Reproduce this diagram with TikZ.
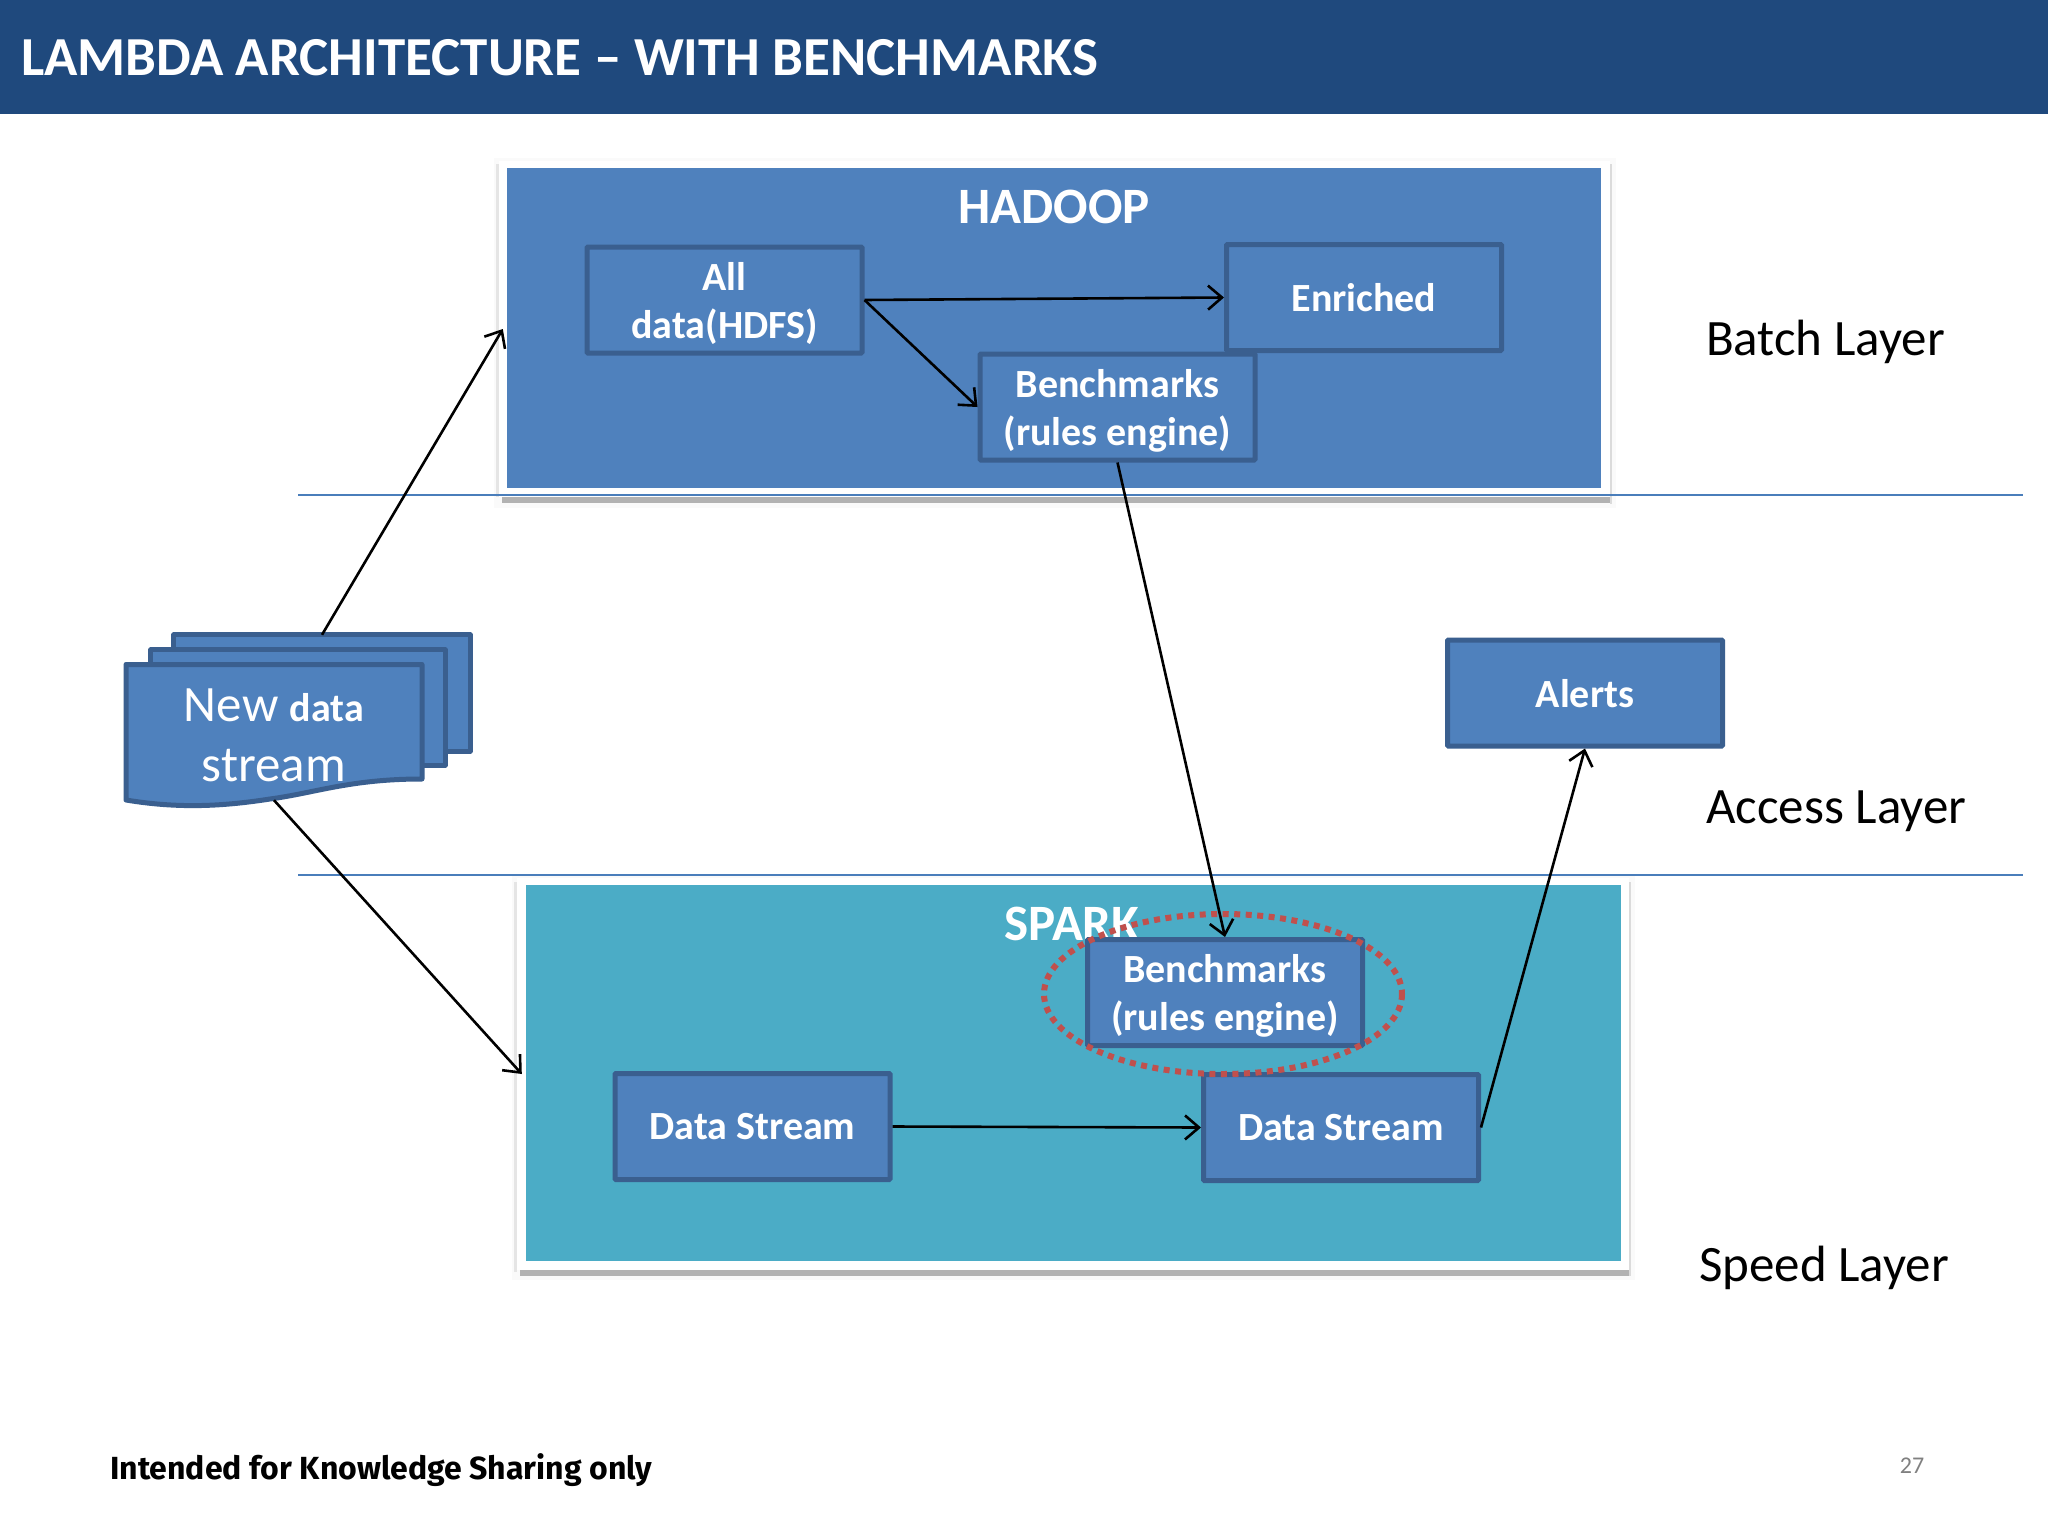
\documentclass[tikz,border=0pt]{standalone}
\usepackage{fontspec}
\setmainfont{Carlito}
\newfontfamily\footfont{Fira Sans}
\usetikzlibrary{arrows.meta,shapes.geometric,calc}
\definecolor{hdr}{HTML}{1F497D}
\definecolor{bluefill}{HTML}{4F81BD}
\definecolor{blueedge}{HTML}{3A5F8F}
\definecolor{teal}{HTML}{4BACC6}
\definecolor{rule}{HTML}{4A7EBB}
\definecolor{redot}{HTML}{C0504D}
\newcommand{\fs}[2]{\fontsize{#1}{#2}\selectfont}
\tikzset{
  x=1pt,y=-1pt,
  procbox/.style={draw=blueedge,fill=bluefill,line width=5pt,rounded corners=1pt,
    minimum width=275pt,minimum height=106pt,inner sep=0pt,align=center,
    text=white,font=\fs{40}{48}\bfseries,text depth=-1.5pt},
  layerlabel/.style={anchor=west,font=\fs{51}{58},text=black,inner sep=0pt},
  rulerline/.style={draw=rule,line width=2pt},
  flow/.style={draw=black,line width=2.6pt,-{Straight Barb[length=14pt,width=24pt,line width=2.6pt]}},
  paper/.style={draw=blueedge,fill=bluefill,line width=5pt,line join=round},
}
\begin{document}
\begin{tikzpicture}
\useasboundingbox (0,0) rectangle (2048,1536);
\fill[white] (0,0) rectangle (2048,1536);
\fill[hdr] (0,0) rectangle (2048,114);
\node[anchor=west,inner sep=0pt,text=white,font=\fs{55}{60}\bfseries] (title) at (21,58) {LAMBDA ARCHITECTURE – WITH BENCHMARKS};

% hadoop frame
\fill[black!2] (494,158) rectangle (1616,508);
\fill[black!10] (496,164) rectangle (499,497);
\fill[black!14] (1610,164) rectangle (1612,504);
\fill[black!30] (502,497) rectangle (1610,503);
\fill[white] (499,161) rectangle (1610,497);
\fill[bluefill] (507,168) rectangle (1601,488);
\node[minimum width=1102pt,minimum height=334pt,inner sep=0pt] (hadoop) at (1054,329) {};
% spark frame
\fill[black!2] (512,876) rectangle (1635,1280);
\fill[black!10] (514,882) rectangle (517,1272);
\fill[black!14] (1629,882) rectangle (1631,1276);
\fill[black!30] (520,1270) rectangle (1629,1276);
\fill[white] (517,878) rectangle (1629,1270);
\fill[teal] (526,885) rectangle (1621,1261);
\node[minimum width=1102pt,minimum height=392pt,inner sep=0pt] (spark) at (1073,1074) {};
\draw[rulerline] (298,495) -- (2023,495);
\draw[rulerline] (298,875) -- (2023,875);

\node[text=white,font=\fs{51}{56}\bfseries] (hadooptitle) at (1054,207) {HADOOP};
\node[text=white,font=\fs{51}{56}\bfseries,anchor=west,inner sep=0pt] (sparktitle) at (1004,924) {SPARK};

% boxes
\node[procbox] (all) at (724.5,300) {All\\data(HDFS)};
\node[procbox] (enriched) at (1364,297.5) {Enriched};
\node[procbox] (bench1) at (1117.5,407) {Benchmarks\\(rules engine)};
\node[procbox] (bench2) at (1225,992.5) {Benchmarks\\(rules engine)};
\node[procbox] (ds1) at (752.5,1126.5) {Data Stream};
\node[procbox] (ds2) at (1341,1127.5) {Data Stream};
\node[procbox] (alerts) at (1585,693) {Alerts};
\draw[redot,line width=6pt,dash pattern=on 6pt off 5.5pt] (1223,994) ellipse [x radius=179,y radius=80];
\node[minimum width=358pt,minimum height=160pt,inner sep=0pt] (halo) at (1223,994) {};

% document stack
\node[minimum width=296pt,minimum height=116pt,inner sep=0pt] (back) at (322,693) {};
\draw[paper] (back.north west) rectangle (back.south east);
\node[minimum width=294pt,minimum height=115pt,inner sep=0pt] (mid) at (298,707.5) {};
\draw[paper] (mid.north west) rectangle (mid.south east);
\node[minimum width=296pt,minimum height=138pt,inner sep=0pt] (front) at (274,731) {};
\draw[paper] (126,664.5) -- (422,664.5) -- (422,779)
  .. controls (350,779) and (315,793) .. (270,799)
  .. controls (225,806) and (180,809) .. (126,800) -- cycle;
\node[text=white,align=center,inner sep=0pt,font=\fs{51}{60}] (frontlabel) at (274,735)
  {New {\fontsize{40}{60}\selectfont\bfseries data}\\stream};

% connectors
\draw[flow] (back.north) -- (hadoop.west);
\draw[flow] (front.south) -- (spark.west);
\draw[flow] (all.east) -- (enriched.west);
\draw[flow] (all.east) -- (bench1.west);
\draw[flow] (bench1.south) -- (bench2.north);
\draw[flow] (ds1.east) -- (ds2.west);
\draw[flow] (ds2.east) -- (alerts.south);

% labels
\node[layerlabel] (batch) at (1706,342) {Batch Layer};
\node[layerlabel] (access) at (1706,811) {Access Layer};
\node[layerlabel] (speed) at (1699,1268) {Speed Layer};
\node[anchor=west,inner sep=0pt,font=\footfont\fs{32}{36}\bfseries] (foot) at (110,1470) {Intended for Knowledge Sharing only};
\node[text=black!50,font=\fs{24}{28}] (pageno) at (1912,1466) {27};
\end{tikzpicture}
\end{document}
